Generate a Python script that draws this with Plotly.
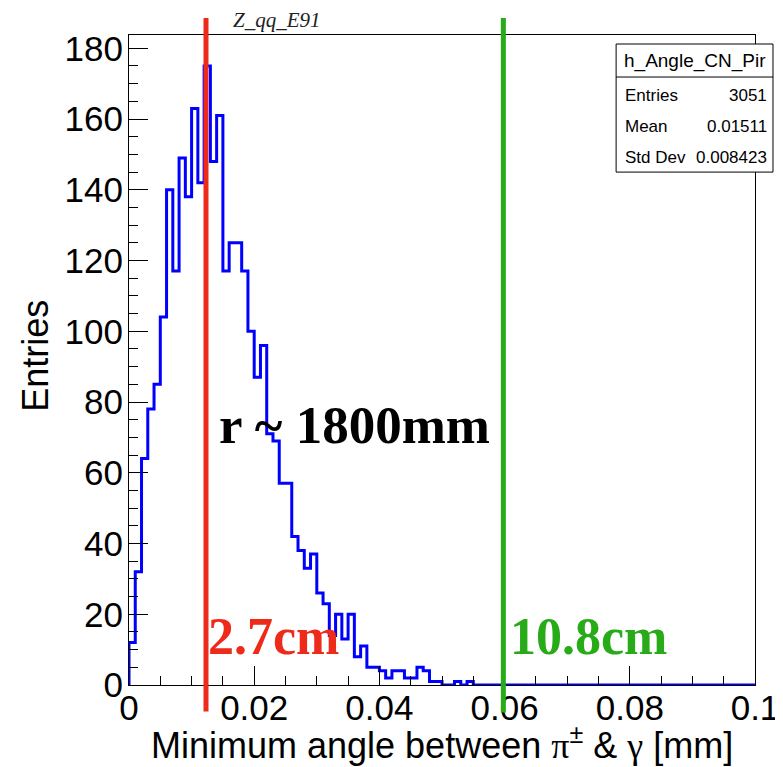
import plotly.graph_objects as go

# ---- data ----
bin_width = 0.001
x_min, x_max = 0.0, 0.1
counts = [12, 32, 64, 78, 85, 104, 140, 117, 149, 138,
          163, 142, 175, 148, 161, 117, 125, 125, 117, 100,
          87, 96, 71, 69, 57, 57, 42, 38, 33, 37,
          26, 23, 14, 20, 13, 20, 8, 11, 5, 5,
          4, 2, 4, 4, 2, 2, 5, 4, 1, 1,
          0, 0, 1, 0, 1, 0, 0, 0, 0, 0,
          0, 0, 0, 0, 0, 0, 0, 0, 0, 0,
          0, 0, 0, 0, 0, 0, 0, 0, 0, 0,
          0, 0, 0, 0, 0, 0, 0, 0, 0, 0,
          0, 0, 0, 0, 0, 0, 0, 0, 0, 0]
x_tickvals = [0, 0.02, 0.04, 0.06, 0.08, 0.1]
x_ticktext = ["0", "0.02", "0.04", "0.06", "0.08", "0.1"]
y_tickvals = [0, 20, 40, 60, 80, 100, 120, 140, 160, 180]
y_ticktext = ["0", "20", "40", "60", "80", "100", "120", "140", "160", "180"]
y_max = 183.75
red_cut = 0.0123
green_cut = 0.0598
stats_title = "h_Angle_CN_Pir"
stats_labels = ["Entries", "Mean", "Std Dev"]
stats_values = ["3051", "0.01511", "0.008423"]
hist_title = "Z_qq_E91"
x_title = ("Minimum angle between "
           "<span style='font-family:Liberation Serif, Times New Roman, serif'>π</span>"
           "<sup>±</sup> & "
           "<span style='font-family:Liberation Serif, Times New Roman, serif'>γ</span> [mm]")
y_title = "Entries"
label_r = "r ~ 1800mm"
label_red = "2.7cm"
label_green = "10.8cm"

# ---- geometry (page has an 8px body margin, so compensate) ----
OFF = 8
W_FIG, H_FIG = 783 - OFF, 767 - OFF
L, R, T, B = 128.5 - OFF, 755.0 - OFF, 35.0 - OFF, 684.6 - OFF
PW, PH = R - L, B - T


def px(xp):
    return (xp - OFF - L) / PW


def py(yp):
    return (B - (yp - OFF)) / PH


edges = [x_min + i * bin_width for i in range(len(counts))]
xs = [x_min] + edges + [x_max]
ys = [0] + counts + [counts[-1]]

RED = "#ee2a1a"
GREEN = "#28ab18"
SANS = "Liberation Sans, Arial, sans-serif"
SERIF = "Liberation Serif, Times New Roman, serif"

fig = go.Figure()
fig.add_trace(go.Scatter(x=xs, y=ys, mode="lines", line_shape="hv",
                         line=dict(color="#0000ff", width=3), hoverinfo="skip",
                         showlegend=False))

fig.update_layout(
    width=W_FIG, height=H_FIG,
    margin=dict(l=L, r=W_FIG - R, t=T, b=H_FIG - B, pad=0, autoexpand=False),
    paper_bgcolor="white", plot_bgcolor="white",
    font=dict(family=SANS, color="black"),
    showlegend=False,
)

fig.update_xaxes(range=[x_min, x_max], tickvals=x_tickvals, ticktext=x_ticktext,
                 ticks="inside", ticklen=19, tickwidth=1, tickcolor="black",
                 minor=dict(ticks="inside", ticklen=9, dtick=0.005, tickcolor="black", tickwidth=1),
                 showline=True, linecolor="black", linewidth=1, mirror=True,
                 showgrid=False, zeroline=False, automargin=False,
                 ticklabelstandoff=-8,
                 tickfont=dict(size=35, family=SANS))
fig.update_yaxes(range=[0, y_max], tickvals=y_tickvals, ticktext=y_ticktext,
                 ticks="inside", ticklen=19, tickwidth=1, tickcolor="black",
                 minor=dict(ticks="inside", ticklen=9, dtick=5, tickcolor="black", tickwidth=1),
                 showline=True, linecolor="black", linewidth=1, mirror=True,
                 showgrid=False, zeroline=False, automargin=False,
                 ticklabelstandoff=-2,
                 tickfont=dict(size=35, family=SANS))

# axis titles
fig.add_annotation(xref="paper", yref="paper", x=px(442), y=py(743), text=x_title,
                   showarrow=False, xanchor="center", yanchor="middle",
                   font=dict(size=36, family=SANS))
fig.add_annotation(xref="paper", yref="paper", x=px(35), y=py(356), text=y_title,
                   showarrow=False, xanchor="center", yanchor="middle", textangle=-90,
                   font=dict(size=36, family=SANS))

# cut lines extending beyond the frame
fig.add_shape(type="line", xref="x", yref="paper", x0=red_cut, x1=red_cut,
              y0=py(711), y1=py(18), line=dict(color=RED, width=5))
fig.add_shape(type="line", xref="x", yref="paper", x0=green_cut, x1=green_cut,
              y0=py(712), y1=py(18), line=dict(color=GREEN, width=5))

# stats box
bx0, bx1, by0, by1 = 616, 773, 44, 172
fig.add_shape(type="rect", xref="paper", yref="paper", x0=px(bx0), x1=px(bx1),
              y0=py(by1), y1=py(by0), line=dict(color="black", width=1), fillcolor="white")
fig.add_shape(type="line", xref="paper", yref="paper", x0=px(bx0), x1=px(bx1),
              y0=py(77), y1=py(77), line=dict(color="black", width=1))
fig.add_annotation(xref="paper", yref="paper", x=px((bx0 + bx1) / 2), y=py(61),
                   text=stats_title, showarrow=False, xanchor="center", yanchor="middle",
                   font=dict(size=19, family=SANS))
row_y = [95, 126, 157]
for lab, val, yy in zip(stats_labels, stats_values, row_y):
    fig.add_annotation(xref="paper", yref="paper", x=px(bx0 + 7), y=py(yy), text=lab,
                       showarrow=False, xanchor="left", yanchor="middle",
                       font=dict(size=17, family=SANS))
    fig.add_annotation(xref="paper", yref="paper", x=px(bx1 - 4), y=py(yy), text=val,
                       showarrow=False, xanchor="right", yanchor="middle",
                       font=dict(size=17, family=SANS))

# title
fig.add_annotation(xref="paper", yref="paper", x=px(277), y=py(20), text=hist_title,
                   showarrow=False, xanchor="center", yanchor="middle",
                   font=dict(size=21, family=SERIF, style="italic", color="#222222"))

# big labels
fig.add_annotation(xref="paper", yref="paper", x=px(217), y=py(425), text=label_r,
                   showarrow=False, xanchor="left", yanchor="middle",
                   font=dict(size=53, family=SERIF, weight="bold", color="black"))
fig.add_annotation(xref="paper", yref="paper", x=px(206), y=py(636), text=label_red,
                   showarrow=False, xanchor="left", yanchor="middle",
                   font=dict(size=52, family=SERIF, weight="bold", color=RED))
fig.add_annotation(xref="paper", yref="paper", x=px(508), y=py(636), text=label_green,
                   showarrow=False, xanchor="left", yanchor="middle",
                   font=dict(size=52, family=SERIF, weight="bold", color=GREEN))

fig.write_html("out.html")
